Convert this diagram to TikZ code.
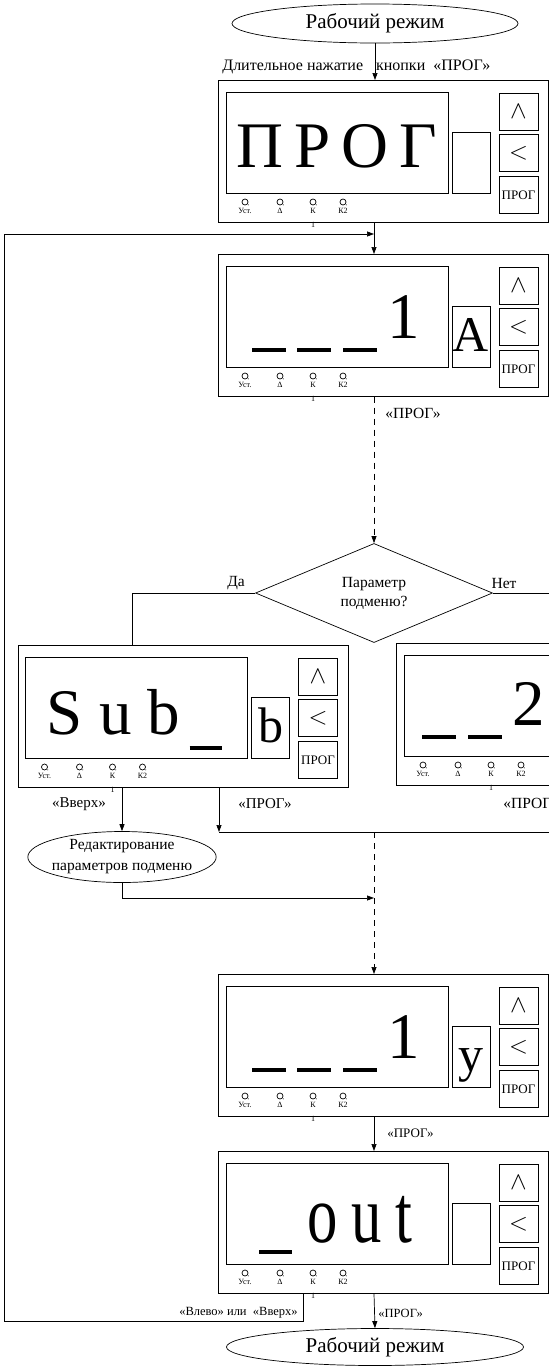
\documentclass[tikz,border=0pt]{standalone}
\usepackage{fontspec}
\setmainfont{Liberation Serif}
\newfontfamily\narrowfont[FakeStretch=0.74]{Liberation Serif}
\usetikzlibrary{shapes.geometric,arrows.meta}

\tikzset{
    mode/.style={draw, ellipse, inner sep=0pt, font=\fontsize{21}{24}\selectfont},
    lbl/.style={inner sep=0pt, font=\fontsize{15.5}{19}\selectfont},
    arr/.style={-{Triangle[length=7pt,width=5pt]}},
    dsh/.style={dash pattern=on 6pt off 5pt},
    btn/.style={draw, minimum width=39pt, minimum height=37pt, inner sep=0pt,
        font=\fontsize{26}{26}\selectfont},
    disp/.style={inner sep=0pt, font=\fontsize{65}{65}\selectfont},
    side/.style={inner sep=0pt, font=\fontsize{50}{50}\selectfont},
    bar/.style={line width=4pt},
    tiny/.style={inner sep=0pt, font=\fontsize{8}{9}\selectfont},
}

% front panel: name, top left corner, letter, what the display shows
\newcommand{\pult}[4]{%
    \begin{scope}[shift={#2}]
        \node[draw, anchor=north west, minimum width=330pt, minimum height=142pt,
            inner sep=0pt] (#1) at (0,0) {};
        \draw (8,12) rectangle (230,113);   % display
        \draw (234,52) rectangle (272,113); % letter window
        \node[side, anchor=base] (#1-let) at (253,97) {#3};
        % keys
        \node[btn] (#1-up) at (300.5,32) {$\wedge$};
        \node[btn] (#1-lt) at (300.5,73) {$<$};
        \node[btn, font=\fontsize{13}{13}\selectfont] (#1-pr) at (300.5,115) {ПРОГ};
        % leds
        \foreach \x/\t in {27/Уст., 62/Δ, 95/К, 125/К2} {
            \draw (\x,122) circle (3pt);
            \fill (\x+3.3,124.8) circle (0.5pt);
            \node[tiny] (#1-led\x) at (\x,131) {\t};
        }
        \node[tiny] (#1-k1) at (95,145) {1};
        #4
    \end{scope}}

\begin{document}
\begin{tikzpicture}[x=1pt, y=-1pt, line width=0.7pt]
    \useasboundingbox (0,0) rectangle (549,1366);

    % modes
    \node[mode, minimum width=286pt, minimum height=39pt] (rr1) at (375,23.5) {Рабочий режим};
    \node[mode, minimum width=297pt, minimum height=37pt] (rr2) at (375,1347) {Рабочий режим};
    \node[mode, font=\fontsize{15.5}{21}\selectfont, align=center, inner xsep=-3.5pt,
        inner ysep=-2.5pt, minimum width=186pt, minimum height=51pt] (ed) at (122,857)
        {Редактирование\\параметров подменю};

    % question
    \node[draw, diamond, inner sep=0pt, minimum width=237pt, minimum height=94pt,
        align=center, font=\fontsize{15.5}{19}\selectfont] (q) at (374,593)
        {Параметр\\подменю?};

    % panels
    \pult{prog}{(218,80)}{}{%
        \node[disp, anchor=base, font=\fontsize{65}{65}\selectfont\spaceskip 11pt\relax]
            (prog-txt) at (119,87) {П Р О Г};}
    \pult{par1}{(218,254)}{A}{%
        \draw[bar] (34,96) -- (68,96) (79,96) -- (113,96) (125,96) -- (159,96);
        \node[disp, anchor=base] (par1-txt) at (186,84) {1};}
    \pult{sub}{(17.5,645)}{b}{%
        \node[disp, anchor=base] (sub-txt) at (96,89) {S u b};
        \draw[bar] (172,103) -- (204,103);}
    \pult{par2}{(396,643)}{}{%
        \draw[bar] (26,94) -- (60,94) (72,94) -- (106,94);
        \node[disp, anchor=base] (par2-txt) at (133,82) {2};}
    \pult{par3}{(218,974)}{y}{%
        \draw[bar] (34,96) -- (68,96) (79,96) -- (113,96) (125,96) -- (159,96);
        \node[disp, anchor=base] (par3-txt) at (186,84) {1};}
    \pult{out}{(218,1151)}{}{%
        \draw[bar] (41,101) -- (74,101);
        \node[disp, anchor=base, font=\fontsize{82}{82}\narrowfont\spaceskip 14pt\relax]
            (out-txt) at (142,91) {o u t};}

    % points
    \coordinate (ax) at (374,0);   % main line
    \coordinate (m1) at (219,832);
    \coordinate (m2) at (374,832);
    \coordinate (m3) at (374,898);
    \coordinate (j1) at (374,234); % way back in
    \coordinate (lp) at (4,1321);

    % main line
    \draw[arr] (rr1.south) -- (rr1.south |- prog.north);
    \draw[arr] (prog.south -| ax) -- (par1.north -| ax);
    \draw[dsh,arr] (par1.south -| ax) -- (q.north);
    \draw (q.west) -| ([xshift=115pt]sub.north west);
    \draw (q.east) -| ([xshift=200pt]par2.north west);
    \draw[arr] (ed.north |- sub.south) -- (ed.north);
    \draw[arr] (m1 |- sub.south) -- (m1);
    \draw (par2.south) |- (m1);
    \draw[arr] (ed.south) |- (m3);
    \draw[dsh,arr] (m2) -- (par3.north -| ax);
    \draw[arr] (par3.south -| ax) -- (out.north -| ax);
    \draw[arr] (out.south -| ax) -- (rr2.north);
    \draw[arr] ([xshift=85pt]out.south west) |- (lp) -- (lp |- j1) -- (j1);

    % labels
    \node[lbl, anchor=base west, font=\fontsize{16}{19}\selectfont] (t0) at (222,70)
        {Длительное нажатие\hspace{13pt}кнопки\ \ «ПРОГ»};
    \node[lbl, anchor=west] (t1) at (385,413) {«ПРОГ»};
    \node[lbl] (t2) at (236,583) {Да};
    \node[lbl] (t3) at (504,583) {Нет};
    \node[lbl, font=\fontsize{15}{18}\selectfont] (t4) at (79,804) {«Вверх»};
    \node[lbl, font=\fontsize{15}{18}\selectfont] (t5) at (265,804) {«ПРОГ»};
    \node[lbl, anchor=west] (t6) at (503,803) {«ПРОГ»};
    \node[lbl, anchor=west, font=\fontsize{13}{16}\selectfont] (t7) at (387,1133) {«ПРОГ»};
    \node[lbl, anchor=west, font=\fontsize{12.5}{15}\selectfont] (t8) at (378,1313) {«ПРОГ»};
    \node[lbl, anchor=east, font=\fontsize{12.5}{15}\selectfont] (t9) at (298,1313)
        {«Влево» или\ \ «Вверх»};
\end{tikzpicture}
\end{document}
